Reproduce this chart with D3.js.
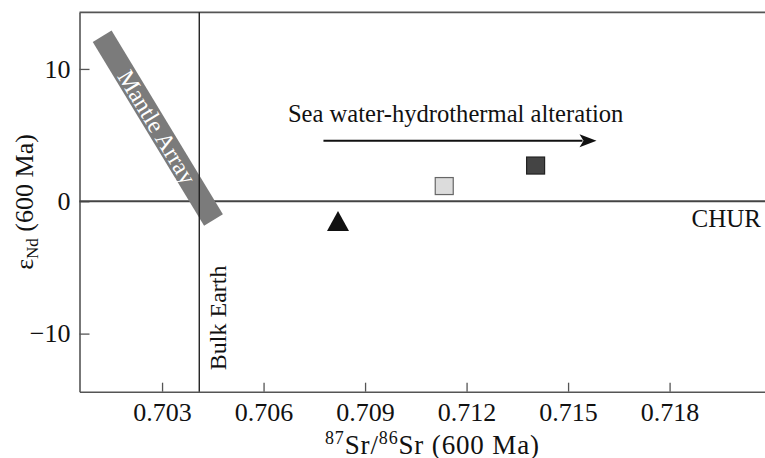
<!DOCTYPE html>
<html><head><meta charset="utf-8">
<script src="https://cdn.jsdelivr.net/npm/d3@7"></script>
<style>body{margin:0;background:#fff} text{font-family:"Liberation Serif","Times New Roman",serif}</style>
</head><body><svg id="c" width="765" height="458"></svg>
<script>
// ---- data ----
const xTicks = [0.703, 0.706, 0.709, 0.712, 0.715, 0.718];
const yTicks = [10, 0, -10];
const yTickLabels = ["10", "0", "\u221210"];
const sampleNames = ["triangle", "lightSquare", "darkSquare"];
const sampleSr = [0.7082, 0.71134, 0.71404];
const sampleNd = [-1.5, 1.15, 2.7];
const mantleArraySr = [0.70123, 0.70452];
const mantleArrayNd = [12.47, -1.41];
const bulkEarthSr = 0.7041;
const churNd = 0;
const arrowSr = [0.70777, 0.71584];
const arrowNd = 4.58;
const arrowTextSr = 0.70672;
const arrowTextNd = 6.0;

// ---- layout ----
const L = 79.5, R = 765, T = 12.3, B = 391.7;
const svg = d3.select("#c");
const x = d3.scaleLinear().domain([0.70056, 0.72082]).range([L, R]);
const y = d3.scaleLinear().domain([-14.39, 14.28]).range([B, T]);
const axisCol = "#555";

// axes
const gx = svg.append("g").attr("transform", `translate(0,${B})`)
  .call(d3.axisBottom(x).tickValues(xTicks).tickSizeInner(-9).tickSizeOuter(0)
    .tickPadding(10.5).tickFormat(d3.format(".3f")));
const gy = svg.append("g").attr("transform", `translate(${L},0)`)
  .call(d3.axisLeft(y).tickValues(yTicks).tickSizeInner(-10).tickSizeOuter(0)
    .tickPadding(9).tickFormat((d, i) => yTickLabels[i]));
[gx, gy].forEach(g => {
  g.attr("font-family", null);
  g.select(".domain").attr("stroke", axisCol).attr("stroke-width", 1.6);
  g.selectAll(".tick line").attr("stroke", axisCol).attr("stroke-width", 1.3);
  g.selectAll(".tick text").attr("fill", "#111").style("font-size", "26px")
    .style("font-family", '"Liberation Serif","Times New Roman",serif');
});
// top border
svg.append("line").attr("x1", L).attr("x2", R).attr("y1", T).attr("y2", T)
  .attr("stroke", axisCol).attr("stroke-width", 1.8);

// CHUR line
svg.append("line").attr("x1", L).attr("x2", R).attr("y1", y(churNd)).attr("y2", y(churNd))
  .attr("stroke", "#444").attr("stroke-width", 1.8);
svg.append("text").attr("x", R - 4).attr("y", y(churNd) + 25.4).attr("text-anchor", "end")
  .style("font-size", "25px").attr("fill", "#111").text("CHUR");

// Mantle array band
const m1 = [x(mantleArraySr[0]), y(mantleArrayNd[0])], m2 = [x(mantleArraySr[1]), y(mantleArrayNd[1])];
svg.append("line").attr("x1", m1[0]).attr("y1", m1[1]).attr("x2", m2[0]).attr("y2", m2[1])
  .attr("stroke", "#7b7b7b").attr("stroke-width", 22).attr("stroke-linecap", "butt");
const ang = Math.atan2(m2[1] - m1[1], m2[0] - m1[0]) * 180 / Math.PI;
svg.append("text").attr("transform", `translate(${(m1[0] + m2[0]) / 2 - 1},${(m1[1] + m2[1]) / 2 - 1}) rotate(${ang})`)
  .attr("text-anchor", "middle").attr("dominant-baseline", "central")
  .style("font-size", "24px").attr("fill", "#fff").text("Mantle Array");

// Bulk Earth line
svg.append("line").attr("x1", x(bulkEarthSr)).attr("x2", x(bulkEarthSr)).attr("y1", T).attr("y2", B)
  .attr("stroke", "#222").attr("stroke-width", 1.4);
svg.append("text").attr("transform", `translate(${x(bulkEarthSr) + 26.5},${B - 21.5}) rotate(-90)`)
  .style("font-size", "24px").attr("fill", "#111").text("Bulk Earth");

// arrow
const ax1 = x(arrowSr[0]), ax2 = x(arrowSr[1]), ay = y(arrowNd);
svg.append("line").attr("x1", ax1).attr("x2", ax2 - 14).attr("y1", ay).attr("y2", ay)
  .attr("stroke", "#111").attr("stroke-width", 2);
svg.append("path").attr("d", `M${ax2},${ay} L${ax2 - 17},${ay - 6.5} L${ax2 - 13},${ay} L${ax2 - 17},${ay + 6.5} Z`)
  .attr("fill", "#111");
svg.append("text").attr("x", x(arrowTextSr)).attr("y", y(arrowTextNd))
  .style("font-size", "24.6px").attr("fill", "#111").text("Sea water-hydrothermal alteration");

// samples
const pts = sampleNames.map((n, i) => ({ n, sr: sampleSr[i], nd: sampleNd[i] }));
pts.forEach(p => {
  const cx = x(p.sr), cy = y(p.nd);
  if (p.n === "triangle") {
    svg.append("path").attr("d", `M${cx},${cy - 10} L${cx + 11},${cy + 10} L${cx - 11},${cy + 10} Z`)
      .attr("fill", "#111");
  } else {
    svg.append("rect").attr("x", cx - 9).attr("y", cy - 8.5).attr("width", 18).attr("height", 17)
      .attr("fill", p.n === "lightSquare" ? "#dcdcdc" : "#444")
      .attr("stroke", p.n === "lightSquare" ? "#666" : "#222").attr("stroke-width", 1.2);
  }
});

// axis titles
const yt = svg.append("text").attr("transform", `translate(33,202) rotate(-90)`)
  .attr("text-anchor", "middle").style("font-size", "26px").attr("fill", "#111");
yt.append("tspan").text("\u03b5");
yt.append("tspan").attr("dy", 5).style("font-size", "17px").text("Nd");
yt.append("tspan").attr("dy", -5).text(" (600 Ma)");

const xt = svg.append("text").attr("x", 325).attr("y", 453.5)
  .style("font-size", "27px").attr("fill", "#111");
xt.append("tspan").attr("dy", -10).style("font-size", "18px").text("87");
xt.append("tspan").attr("dy", 10).text("Sr/");
xt.append("tspan").attr("dy", -10).style("font-size", "18px").text("86");
xt.append("tspan").attr("dy", 10).text("Sr (600 Ma)");
xt.attr("textLength", 214).attr("lengthAdjust", "spacing");
</script></body></html>
